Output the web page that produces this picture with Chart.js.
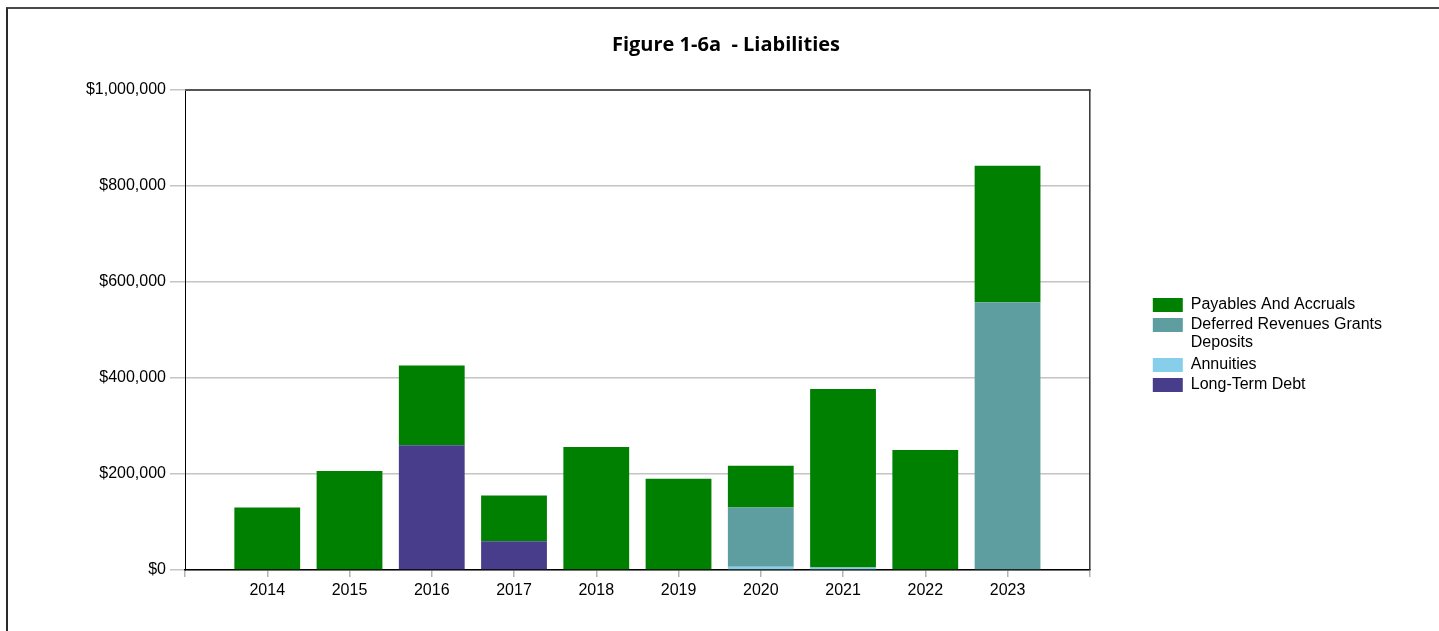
<!DOCTYPE html>
<html>
<head>
<meta charset="utf-8">
<script src="https://cdn.jsdelivr.net/npm/chart.js@4.4.1/dist/chart.umd.min.js"></script>
<style>
  html, body { margin: 0; padding: 0; background: #fff; overflow: hidden; }
  #wrap { position: relative; width: 1439px; height: 631px; }
  #frame { position: absolute; left: 6px; top: 7px; width: 1500px; height: 700px;
           border-top: 2px solid #4a4a4a; border-left: 2px solid #2a2a2a; pointer-events: none; }
</style>
</head>
<body>
<div id="wrap"><canvas id="c"></canvas><div id="frame"></div></div>
<script>
// ---- data ----
const categories = ['2014', '2015', '2016', '2017', '2018', '2019', '2020', '2021', '2022', '2023'];
const payablesAndAccruals = [130000, 206000, 166000, 95000, 256000, 190000, 87000, 372000, 250000, 284000];
const deferredRevenuesGrantsDeposits = [0, 0, 0, 0, 0, 0, 123000, 0, 0, 558000];
const annuities = [0, 0, 0, 0, 0, 0, 7000, 5000, 0, 0];
const longTermDebt = [0, 0, 260000, 60000, 0, 0, 0, 0, 0, 0];
const yTickMin = 0;
const yTickMax = 1000000;
const yTickStep = 200000;
const seriesNames = ['Payables And Accruals', 'Deferred Revenues Grants Deposits', 'Annuities', 'Long-Term Debt'];
const titleText = 'Figure 1-6a  - Liabilities';

const years = categories.map(Number);
const toPoints = arr => years.map((yr, i) => ({ x: yr, y: arr[i] }));

const FONT = '"Liberation Sans", Arial, sans-serif';

function wrapLabel(text, maxChars) {
  if (text.length <= maxChars) return text;
  const cut = text.lastIndexOf(' ', maxChars);
  return [text.slice(0, cut), text.slice(cut + 1)];
}

const plotFrame = {
  id: 'plotFrame',
  afterDraw(chart) {
    const { ctx, chartArea: a } = chart;
    ctx.save();
    ctx.strokeStyle = '#555';
    ctx.lineWidth = 2;
    ctx.beginPath();
    ctx.moveTo(a.left, a.top);
    ctx.lineTo(a.right + 1, a.top);
    ctx.stroke();
    ctx.strokeStyle = '#333';
    ctx.lineWidth = 1.5;
    ctx.beginPath();
    ctx.moveTo(a.right, a.top);
    ctx.lineTo(a.right, a.bottom);
    ctx.stroke();
    ctx.restore();
  }
};

new Chart(document.getElementById('c'), {
  type: 'bar',
  data: {
    datasets: [
      { label: seriesNames[3], data: toPoints(longTermDebt), backgroundColor: '#483D8B' },
      { label: seriesNames[2], data: toPoints(annuities), backgroundColor: '#87CEEB' },
      { label: seriesNames[1], data: toPoints(deferredRevenuesGrantsDeposits), backgroundColor: '#5F9EA0' },
      { label: seriesNames[0], data: toPoints(payablesAndAccruals), backgroundColor: '#008000' }
    ]
  },
  options: {
    responsive: true,
    maintainAspectRatio: false,
    animation: false,
    layout: { padding: { left: 60, right: 47, top: 0, bottom: 0 } },
    datasets: { bar: { barPercentage: 0.8, categoryPercentage: 1.0, borderWidth: 0 } },
    plugins: {
      tooltip: { enabled: false },
      title: {
        display: true,
        text: titleText,
        color: '#000',
        font: { family: '"Open Sans", "Noto Sans", sans-serif', weight: 'bold', size: 20, lineHeight: 1.2 },
        padding: { top: 33, bottom: 33 }
      },
      legend: {
        position: 'right',
        fullSize: false,
        align: 'center',
        reverse: true,
        maxWidth: 320,
        title: { display: true, text: '', padding: 0, font: { size: 30, lineHeight: 1 } },
        labels: {
          boxWidth: 30,
          boxHeight: 14,
          padding: 4,
          color: '#000',
          font: { family: FONT, size: 16, lineHeight: 1.125 },
          generateLabels(chart) {
            const items = Chart.defaults.plugins.legend.labels.generateLabels(chart);
            items.forEach(it => { it.text = wrapLabel(it.text, 25); it.lineWidth = 0; });
            return items;
          }
        }
      }
    },
    scales: {
      x: {
        type: 'linear',
        stacked: true,
        min: years[0] - 1,
        max: years[years.length - 1] + 1,
        offset: false,
        grid: { display: true, drawOnChartArea: false, drawTicks: true, tickLength: 7, color: '#b4b4b4', lineWidth: 1.5, offset: false },
        border: { display: true, color: '#000', width: 1.5 },
        ticks: {
          stepSize: 1, autoSkip: false, maxRotation: 0, padding: 4, color: '#000',
          font: { family: FONT, size: 16 },
          callback: v => categories.includes(String(v)) ? String(v) : ''
        },
        afterFit: s => { s.height = 61; }
      },
      y: {
        stacked: true,
        min: yTickMin,
        max: yTickMax,
        grid: { color: '#c4c4c4', lineWidth: 1.5, tickLength: 15, drawTicks: true },
        border: { display: true, color: '#000', width: 1 },
        ticks: {
          stepSize: yTickStep, padding: 4, color: '#000',
          font: { family: FONT, size: 16 },
          callback: v => '$' + Number(v).toLocaleString('en-US')
        },
        afterFit: s => { s.width = 125; }
      },
      yGap: {
        type: 'linear',
        position: 'right',
        display: true,
        grid: { display: false, drawTicks: false },
        border: { display: false },
        ticks: { display: false },
        afterFit: s => { s.width = 59; }
      }
    }
  },
  plugins: [plotFrame]
});
</script>
</body>
</html>
